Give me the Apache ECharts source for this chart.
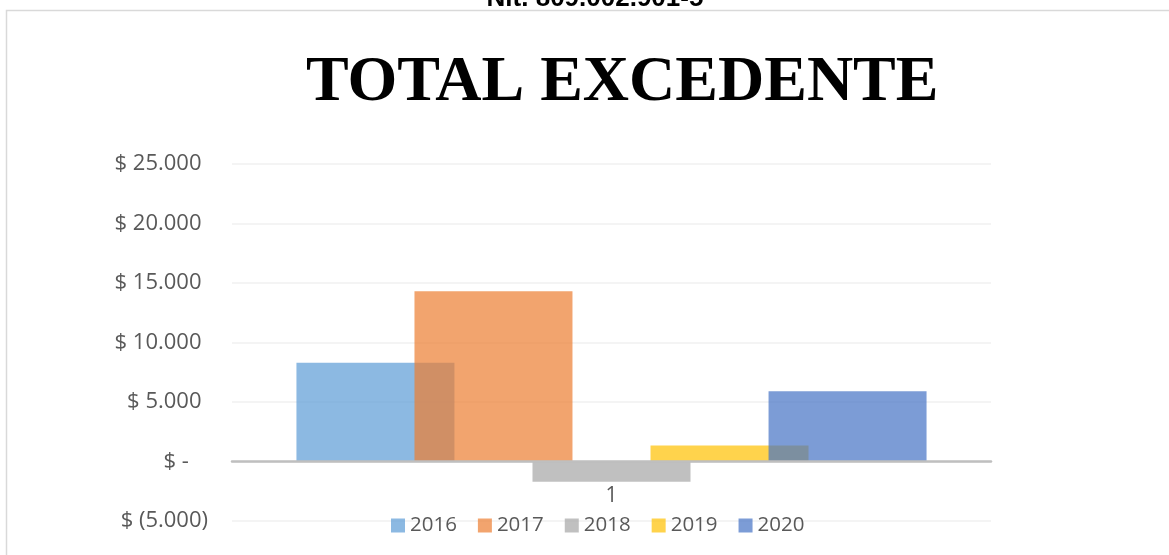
<!DOCTYPE html>
<html>
<head>
<meta charset="utf-8">
<script src="https://cdn.jsdelivr.net/npm/echarts@6/dist/echarts.min.js"></script>
<style>
html,body{margin:0;padding:0;background:#fff;}
#chart{width:1169px;height:555px;}
</style>
</head>
<body>
<div id="chart"></div>
<script>
// ---- data ----
const categories = ['1'];
const seriesNames = ['2016', '2017', '2018', '2019', '2020'];
const values2016 = [8300];
const values2017 = [14300];
const values2018 = [-1700];
const values2019 = [1350];
const values2020 = [5900];
const yTicks = [-5000, 0, 5000, 10000, 15000, 20000, 25000];
const titleText = 'TOTAL EXCEDENTE';
const headerText = 'Nit. 809.002.901-5';

const seriesValues = [values2016, values2017, values2018, values2019, values2020];
const colors = ['#5B9BD5', '#ED7D31', '#A5A5A5', '#FFC000', '#4472C4'];

function fmt(v) {
  const abs = Math.abs(v);
  const s = abs.toString().replace(/\B(?=(\d{3})+(?!\d))/g, '.');
  if (v === 0) return '{t|$ -}{p|0)}';
  if (v < 0) return '{t|$ (' + s + ')}';
  return '{t|$ ' + s + '}{p|)}';
}

const chart = echarts.init(document.getElementById('chart'), null, {renderer: 'canvas'});
const labelFont = 'Open Sans';
chart.setOption({
  animation: false,
  backgroundColor: '#ffffff',
  title: {
    text: titleText,
    left: 306,
    top: 51,
    padding: 0,
    textStyle: {
      fontFamily: 'Liberation Serif',
      fontWeight: 'bold',
      fontSize: 64,
      color: '#000000'
    }
  },
  graphic: [
    {
      type: 'rect',
      shape: {x: 6.5, y: 10.5, width: 1200, height: 600},
      style: {fill: 'none', stroke: '#D9D9D9', lineWidth: 1.5},
      silent: true,
      z: -10
    },
    {
      type: 'text',
      x: 595,
      y: -1,
      style: {
        text: headerText,
        fontFamily: 'Liberation Sans',
        fontWeight: 'bold',
        fontSize: 26,
        fill: '#000000',
        align: 'center',
        verticalAlign: 'middle'
      }
    }
  ],
  legend: {
    data: seriesNames,
    left: 391,
    top: 515,
    padding: 0,
    itemWidth: 14,
    itemHeight: 14,
    itemGap: 21,
    icon: 'rect',
    textStyle: {fontFamily: labelFont, fontSize: 20.5, color: '#595959'}
  },
  grid: {left: 232, right: 178, top: 164, bottom: 34, containLabel: false, outerBoundsMode: 'none'},
  xAxis: {
    type: 'category',
    data: categories,
    z: 5,
    axisLine: {onZero: true, lineStyle: {color: '#BFBFBF', width: 2.5}},
    axisTick: {show: false},
    axisLabel: {fontFamily: labelFont, fontSize: 21, color: '#595959', margin: -35},
    splitLine: {show: false}
  },
  yAxis: {
    type: 'value',
    min: yTicks[0],
    max: yTicks[yTicks.length - 1],
    interval: 5000,
    axisLine: {show: false},
    axisTick: {show: false},
    splitLine: {lineStyle: {color: '#F0F0F0', width: 1.5}},
    axisLabel: {
      margin: 24,
      formatter: fmt,
      rich: {
        t: {fontFamily: labelFont, fontSize: 22, color: '#595959'},
        p: {fontFamily: labelFont, fontSize: 22, color: 'rgba(0,0,0,0)'}
      }
    }
  },
  series: seriesNames.map((name, i) => ({
    name: name,
    type: 'bar',
    data: seriesValues[i],
    barWidth: 158,
    barGap: '-25.3%',
    itemStyle: {color: colors[i], opacity: 0.7}
  }))
});
</script>
</body>
</html>
